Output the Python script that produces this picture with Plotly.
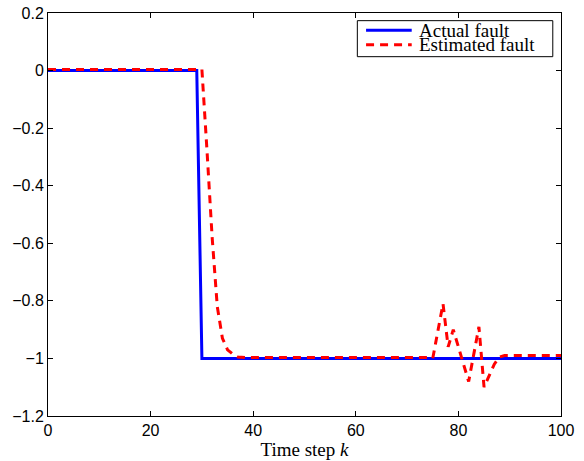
import plotly.graph_objects as go

k = list(range(0, 101))
actual = [0.0] * 30 + [-1.0] * 71

est_head = [0.004] * 31  # k = 0..30
est_drop = [-0.28, -0.58, -0.82, -0.93, -0.97, -0.985, -0.995]  # k = 31..37
est_mid = [-0.997] * 37  # k = 38..74
est_osc = [-1.0, -0.905, -0.81, -0.96, -0.90, -0.96, -1.02, -1.08, -0.985, -0.89, -1.10, -1.06, -1.02, -0.995]  # k = 75..88
est_tail = [-0.99] * 12  # k = 89..100
estimated = est_head + est_drop + est_mid + est_osc + est_tail

series_names = ["Actual fault", "Estimated fault"]
series_colors = ["#0000ff", "#ff0000"]
series_dash = ["solid", "8px,6px"]

fig = go.Figure()
fig.add_trace(go.Scatter(x=k, y=actual, mode="lines", name=series_names[0], showlegend=False,
                         line=dict(color=series_colors[0], width=3, dash=series_dash[0])))
fig.add_trace(go.Scatter(x=k, y=estimated, mode="lines", name=series_names[1], showlegend=False,
                         line=dict(color=series_colors[1], width=3, dash=series_dash[1])))

axis_common = dict(showline=True, linecolor="black", linewidth=1, mirror="ticks",
                   ticks="inside", ticklen=5, tickcolor="black", showgrid=False,
                   zeroline=False, automargin=False, ticklabeloverflow="allow",
                   tickfont=dict(family="Liberation Sans", size=16, color="black"))

fig.update_xaxes(range=[0, 100], tickvals=[0, 20, 40, 60, 80, 100],
                 title=dict(text="Time step <i>k</i>", font=dict(family="Liberation Serif", size=19, color="black"),
                            standoff=0),
                 **axis_common)
fig.update_yaxes(range=[-1.2, 0.2], tickvals=[0.2, 0, -0.2, -0.4, -0.6, -0.8, -1, -1.2],
                 ticktext=["0.2", "0", "\u22120.2", "\u22120.4", "\u22120.6", "\u22120.8", "\u22121", "\u22121.2"],
                 **axis_common)

# Legend box drawn in paper coordinates (MATLAB-style compact legend)
fig.add_shape(type="rect", xref="paper", yref="paper", x0=0.603, x1=0.984, y0=0.8916, y1=0.981,
              line=dict(color="black", width=1), fillcolor="white", layer="above")
legend_rows_y = [0.957, 0.921]
for name, color, dash, yy in zip(series_names, series_colors, series_dash, legend_rows_y):
    fig.add_shape(type="line", xref="paper", yref="paper", x0=0.620, x1=0.709, y0=yy, y1=yy,
                  line=dict(color=color, width=3, dash=dash), layer="above")
    fig.add_annotation(xref="paper", yref="paper", x=0.7187, y=yy, xanchor="left", yanchor="middle",
                       text=name, showarrow=False,
                       font=dict(family="Liberation Serif", size=19, color="black"))

fig.update_layout(
    width=584, height=461,
    margin=dict(l=48, r=23, t=13, b=45),
    paper_bgcolor="white", plot_bgcolor="white",
    showlegend=False,
)

fig.write_html("out.html", config={"displayModeBar": False},
               post_script="document.body.style.margin='0';")
